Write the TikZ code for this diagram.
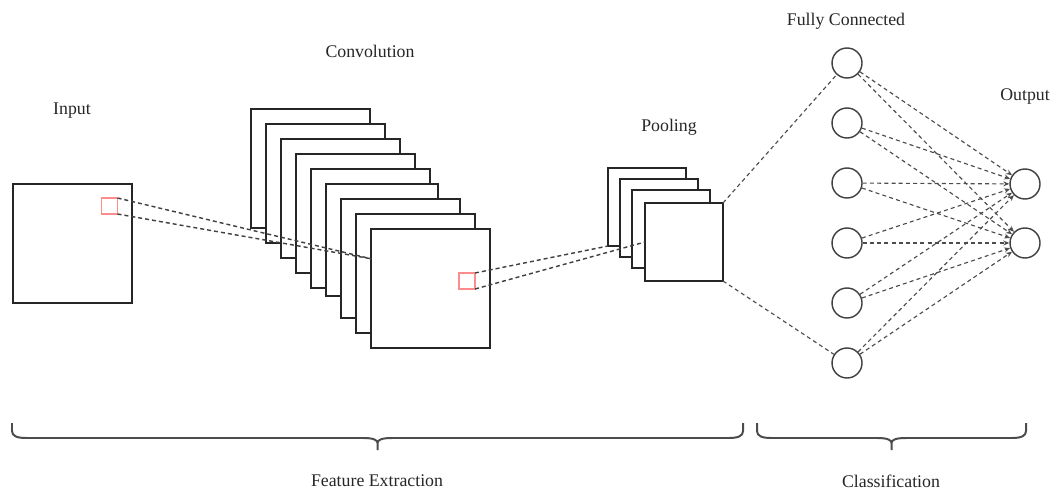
\documentclass[tikz,border=0pt]{standalone}
\usepackage{fontspec}
\setmainfont{Liberation Serif}
\usetikzlibrary{calc,arrows.meta}

\newcommand{\grpbrace}[2]{%
	\draw[grp] (#1,423) -- (#1,431) .. controls (#1,436) and ({#1+5},438) .. ({#1+14},438)
		-- ({(#1+#2)/2-14},438) .. controls ({(#1+#2)/2-4},438) and ({(#1+#2)/2},440) .. ({(#1+#2)/2},443)
		-- ({(#1+#2)/2},450)
		({(#1+#2)/2},443) .. controls ({(#1+#2)/2},440) and ({(#1+#2)/2+4},438) .. ({(#1+#2)/2+14},438)
		-- ({#2-14},438) .. controls ({#2-5},438) and (#2,436) .. (#2,431) -- (#2,423);}

\begin{document}
\begin{tikzpicture}[x=0.5pt,y=-0.5pt,
	layer/.style={draw=black!85,fill=white,line width=0.3mm,inner sep=0,outer sep=0,anchor=north west},
	kernel/.style={draw=red!45,line width=0.2mm,inner sep=0,outer sep=0,minimum size=8pt},
	neuron/.style={circle,draw=black!75,fill=white,line width=0.25mm,inner sep=0,minimum size=15pt},
	link/.style={black!75,line width=0.25mm,dash pattern=on 2pt off 1.5pt},
	fclink/.style={black!70,line width=0.2mm,dash pattern=on 2pt off 1.6pt},
	lbl/.style={text=black!85,font=\fontsize{8.9}{10}\selectfont},
	grp/.style={draw=black!70,line width=0.35mm,line join=round}]
	
	\useasboundingbox (0,0) rectangle (1052,491);
	
	\node[layer,minimum size=59.5pt] (inp) at (13,184) {};
	\node[kernel] (kin) at (109.5,206) {};
	
	\foreach \i/\s in {1/119,2/119,3/119,4/119,5/119,6/112,7/119,8/119,9/119}
		\node[layer,minimum size=\s*0.5pt] (conv\i) at ({236+15*\i},{94+15*\i}) {};
	\node[kernel] (kconv) at (467,281) {};
	
	\foreach \i/\x/\y in {1/608/168,2/620/179,3/632/190,4/645/203}
		\node[layer,minimum size=39pt] (pool\i) at (\x,\y) {};
	
	\foreach \i in {1,...,6}
		\node[neuron] (fc\i) at (847,{3+60*\i}) {};
	\node[neuron] (out1) at (1025,184) {};
	\node[neuron] (out2) at (1025,243) {};
	
	\coordinate (cin) at ($(conv9.north west)!0.25!(conv9.south west)$);
	\coordinate (pin) at ($(pool4.north west)!0.5!(pool4.south west)$);
	
	\draw[link] (kin.north east) -- (cin);
	\draw[link] (kin.south east) -- (cin);
	\draw[link] (kconv.north east) -- (pool1.south west);
	\draw[link] (kconv.south east) -- (pin);
	
	\draw[fclink] (pool4.north east) -- (fc1);
	\draw[fclink] (pool4.south east) -- (fc6);
	\foreach \i in {1,...,6}
		\foreach \j in {1,2}
			\draw[fclink,-{Stealth[length=3pt,width=2.5pt]}] (fc\i) -- (out\j);
	
	\node[lbl] (tin) at (72,111) {Input};
	\node[lbl] (tconv) at (370,51) {Convolution};
	\node[lbl] (tpool) at (669,127) {Pooling};
	\node[lbl] (tfc) at (846,21) {Fully Connected};
	\node[lbl] (tout) at (1025,97) {Output};
	
	\grpbrace{12}{743}
	\grpbrace{757}{1026}
	\node[lbl] (tfe) at (377,481) {Feature Extraction};
	\node[lbl] (tcl) at (891,481) {Classification};
	
\end{tikzpicture}
\end{document}
